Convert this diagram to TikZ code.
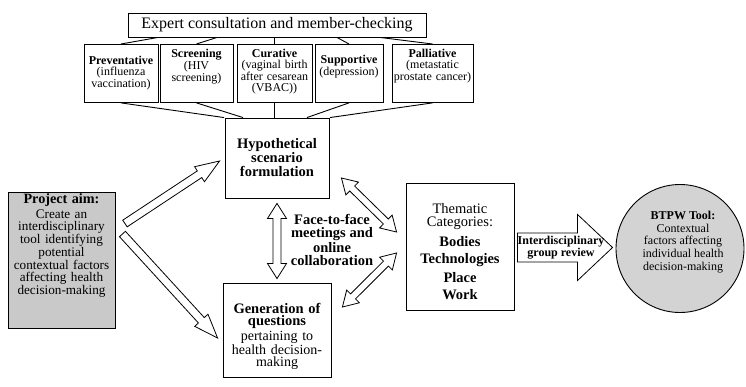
\documentclass[tikz,border=0pt]{standalone}
\usepackage{fontspec}
\setmainfont{Liberation Serif}
\usetikzlibrary{calc,positioning}
\definecolor{aimgray}{RGB}{201,201,201}
\definecolor{toolgray}{RGB}{211,211,211}

% hollow block arrow: [style] tail, tip, shaft half width, head half width, head length
\newcommand{\blockarrow}[6][]{%
  \coordinate (ba-h) at ($(#3)!#6!(#2)$);
  \draw[hollow,#1] ($(#2)!#4!90:(#3)$) -- ($(ba-h)!#4!90:(#3)$) -- ($(ba-h)!#5!90:(#3)$) -- (#3)
    -- ($(ba-h)!#5!-90:(#3)$) -- ($(ba-h)!#4!-90:(#3)$) -- ($(#2)!#4!-90:(#3)$) -- cycle;}
% same, with a head at both ends
\newcommand{\dblarrow}[6][]{%
  \coordinate (da-a) at ($(#2)!#6!(#3)$);
  \coordinate (da-b) at ($(#3)!#6!(#2)$);
  \draw[hollow,#1] (#2) -- ($(da-a)!#5!90:(#3)$) -- ($(da-a)!#4!90:(#3)$) -- ($(da-b)!#4!90:(#3)$)
    -- ($(da-b)!#5!90:(#3)$) -- (#3) -- ($(da-b)!#5!-90:(#3)$) -- ($(da-b)!#4!-90:(#3)$)
    -- ($(da-a)!#4!-90:(#3)$) -- ($(da-a)!#5!-90:(#3)$) -- cycle;}

\begin{document}
\begin{tikzpicture}[x=1pt,y=-1pt,line width=.9pt,
      box/.style={draw,align=center,inner sep=2pt},
      cat/.style={box,anchor=north,inner xsep=1pt,font=\fontsize{12}{10.8}\selectfont,text height=11pt,text depth=43pt},
      hollow/.style={draw,fill=white,line width=.8pt,line join=miter},
      lbl/.style={align=center,inner sep=0pt}]
  \useasboundingbox (0,0) rectangle (746,387);

  \node[box,minimum width=298,minimum height=24,font=\fontsize{16}{18}\selectfont] (expert) at (277,25)
    {Expert consultation and member-checking};
  \node[cat,text width=72,text height=18pt,text depth=36pt] (prev) at (121,44) {\textbf{Preventative}\\(influenza\\vaccination)};
  \node[cat,text width=71] (scr) at (196.5,44) {\textbf{Screening}\\(HIV\\screening)};
  \node[cat,text width=73] (cur) at (274.5,44) {\textbf{Curative}\\(vaginal birth\\after cesarean\\(VBAC))};
  \node[cat,text width=66,text height=17pt,text depth=37pt] (sup) at (349,44) {\textbf{Supportive}\\(depression)};
  \node[cat,text width=79] (pal) at (432.5,44) {\textbf{Palliative}\\(metastatic\\prostate cancer)};

  \node[box,text width=100,minimum height=80,font=\fontsize{14.5}{14}\selectfont\bfseries] (hyp) at (277,158)
    {Hypothetical\\scenario\\formulation};
  \node[box,text width=104,text height=28pt,text depth=62pt,font=\fontsize{14}{12.4}\selectfont] (gen) at (277,330)
    {\textbf{\fontsize{14.5}{12.4}\selectfont Generation of}\\\textbf{\fontsize{14.5}{12.4}\selectfont questions}\\[3pt]pertaining to\\health decision-\\making};
  \node[box,fill=aimgray,text width=103,text height=10pt,text depth=122pt,font=\fontsize{13.2}{11.9}\selectfont] (aim) at (61.5,260)
    {\textbf{\fontsize{14.2}{12}\selectfont Project aim:}\\[2.5pt]Create an\\interdisciplinary\\tool identifying\\potential\\contextual factors\\affecting health\\decision-making};
  \node[box,text width=104,text height=29pt,text depth=94pt,font=\fontsize{14.5}{13}\selectfont] (them) at (460,246.5)
    {Thematic\\Categories:\\[5pt]\textbf{Bodies}\\[4.5pt]\textbf{Technologies}\\[4.5pt]\textbf{Place}\\[4.5pt]\textbf{Work}};
  \node[draw,circle,fill=toolgray,minimum size=128] (btpw) at (680,248.5) {};
  \node[lbl,font=\fontsize{12}{12.8}\selectfont] (btpwtext) at (683,242)
    {\textbf{BTPW Tool:}\\Contextual\\factors affecting\\individual health\\decision-making};

  \foreach \c/\dx in {prev/-119,scr/-60,cur/-2.5,sup/60,pal/103}
    \draw (\c.north) -- ($(expert.south)+(\dx,0)$);
  \foreach \c/\dx in {prev/-53,scr/-34,cur/-2.5,sup/30,pal/53}
    \draw (\c.south) -- ($(hyp.north)+(\dx,0)$);

  \coordinate (aimup) at ($(aim.east)+(9.5,-36.5)$);
  \coordinate (hypin) at ($(hyp.west)+(-5,3)$);
  \coordinate (aimdown) at ($(aim.east)+(7,-26)$);
  \coordinate (genin) at ($(gen.west)+(-5,8)$);
  \coordinate (hypbot) at ($(hyp.south)+(0,5)$);
  \coordinate (gentop) at ($(gen.north)+(0,-4)$);
  \coordinate (hypright) at ($(hyp.east)+(12,20)$);
  \coordinate (themup) at ($(them.west)+(-9,-14.5)$);
  \coordinate (genright) at ($(gen.east)+(11,-23)$);
  \coordinate (themdown) at ($(them.west)+(-9,6.5)$);
  \coordinate (themout) at ($(them.east)+(3,1)$);
  \coordinate (btpwin) at ($(btpw.west)+(-3,-1)$);

  \blockarrow{aimup}{hypin}{4pt}{9pt}{24pt}
  \blockarrow{aimdown}{genin}{4pt}{9pt}{24pt}
  \dblarrow{hypbot}{gentop}{4pt}{9.5pt}{15pt}
  \dblarrow{hypright}{themup}{3.5pt}{9pt}{15pt}
  \dblarrow{genright}{themdown}{3.5pt}{9pt}{15pt}
  \blockarrow{themout}{btpwin}{14.5pt}{33pt}{35pt}

  \node[lbl,font=\fontsize{14.5}{13}\selectfont\bfseries] (meet) at (332,240)
    {Face-to-face\\meetings and\\online\\collaboration};
  \node[lbl,font=\fontsize{12}{10.5}\selectfont\bfseries] (review) at (561,248)
    {Interdisciplinary\\group review};
\end{tikzpicture}
\end{document}
